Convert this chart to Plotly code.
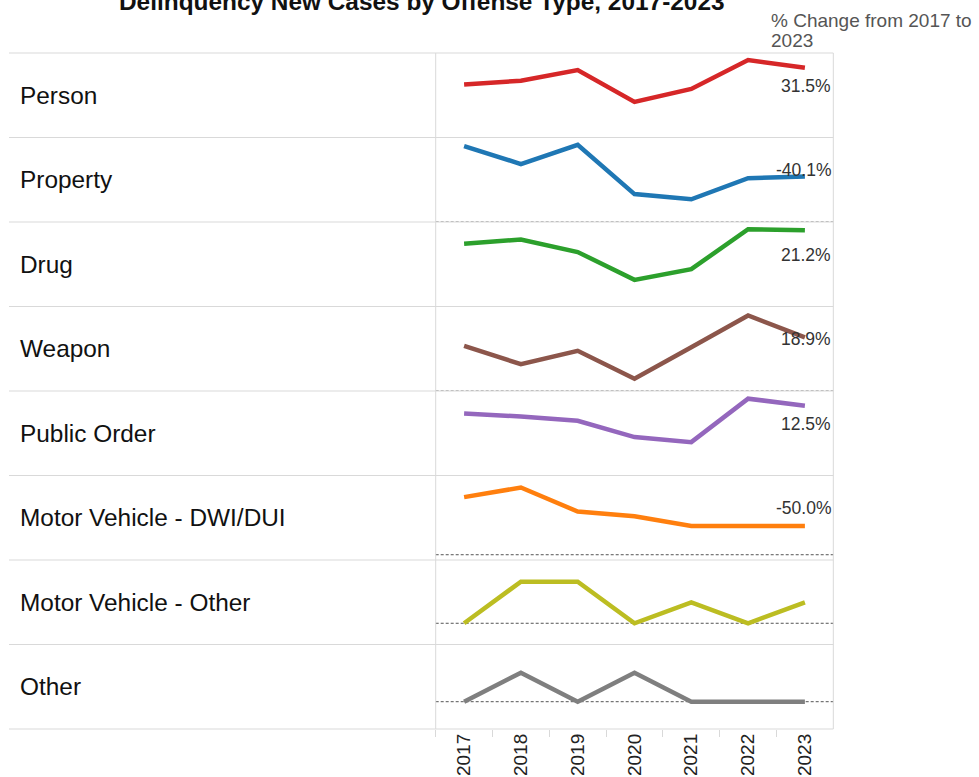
import plotly.graph_objects as go

# ---------------- data ----------------
years = ["2017", "2018", "2019", "2020", "2021", "2022", "2023"]
offense_types = ["Person", "Property", "Drug", "Weapon", "Public Order",
                 "Motor Vehicle - DWI/DUI", "Motor Vehicle - Other", "Other"]
person = [200, 214, 254, 134, 183, 292, 263]
property_cases = [177, 135, 180, 65, 53, 102, 106]
drug = [165, 176, 143, 70, 98, 203, 200]
weapon = [37, 22, 33, 10, 36, 62, 44]
public_order = [160, 152, 141, 99, 86, 198, 180]
mv_dwi = [12, 14, 9, 8, 6, 6, 6]
mv_other = [0, 2, 2, 0, 1, 0, 1]
other = [0, 1, 0, 1, 0, 0, 0]
series = [person, property_cases, drug, weapon, public_order, mv_dwi, mv_other, other]

# ---------------- styles ----------------
colors = ["#d62728", "#1f77b4", "#2ca02c", "#8c564b", "#9467bd",
          "#ff7f0e", "#bcbd22", "#7f7f7f"]
y_ranges = [[0, 318.6], [0, 196.9], [0, 221.9], [0, 69.4], [0, 217.8],
            [-1.1, 16.5], [-1.02, 3.04], [-0.94, 1.97]]
show_zero = [False, True, False, True, False, True, True, True]

W, H = 979, 777
TOP, ROW_H = 53.0, 84.5
X_LEFT, X_RIGHT = 435.7, 833.3
LINE_LEFT = 9.0
GRID = "#d9d9d9"
FONT = "Liberation Sans, Arial, sans-serif"


def px(x):
    return x / W


def py(y):
    return 1 - y / H


fig = go.Figure()
n = len(series)
layout = {}
shapes = []
annotations = []

for i, (name, vals, col) in enumerate(zip(offense_types, series, colors)):
    k = i + 1
    sx = "" if k == 1 else str(k)
    fig.add_trace(go.Scatter(
        x=years, y=vals, mode="lines", name=name,
        line=dict(color=col, width=4.5), xaxis="x" + sx, yaxis="y" + sx,
        hoverinfo="x+y+name", showlegend=False))
    row_top = TOP + i * ROW_H
    row_bot = row_top + ROW_H
    xa = dict(domain=[px(X_LEFT), px(X_RIGHT)], anchor="y" + sx,
              type="category", range=[-0.5, 6.5], showgrid=False,
              zeroline=False, showline=False, showticklabels=False,
              ticks="", fixedrange=True)
    if k == n:
        xa.update(showticklabels=True, ticks="outside", tickson="boundaries",
                  ticklen=7, tickcolor=GRID, tickwidth=1, tickangle=-90,
                  tickfont=dict(family=FONT, size=19, color="#222222"))
    else:
        xa["matches"] = "x" + ("" if n == 1 else str(n))
    ya = dict(domain=[py(row_bot), py(row_top)], anchor="x" + sx,
              range=y_ranges[i], visible=False, fixedrange=True)
    layout["xaxis" + sx] = xa
    layout["yaxis" + sx] = ya

    if show_zero[i]:
        shapes.append(dict(type="line", xref="x" + sx + " domain", yref="y" + sx,
                           x0=0, x1=1, y0=0, y1=0,
                           line=dict(color="#555555", width=1, dash="3px,2px"),
                           layer="below"))

    # row label
    annotations.append(dict(text=name, xref="paper", yref="paper",
                            x=px(18), y=py((row_top + row_bot) / 2),
                            xanchor="left", yanchor="middle", showarrow=False,
                            font=dict(family=FONT, size=24.4, color="#111111")))
    # percent change label
    if vals[0] != 0:
        pct = (vals[-1] - vals[0]) / vals[0] * 100
        annotations.append(dict(text=f"{pct:.1f}%", xref="paper", yref="paper",
                                x=px(833), y=py(row_top + 32.5),
                                xanchor="right", yanchor="middle", showarrow=False,
                                font=dict(family=FONT, size=17.5, color="#333333")))

# row dividers
for i in range(n + 1):
    y = TOP + i * ROW_H
    shapes.append(dict(type="line", xref="paper", yref="paper",
                       x0=px(LINE_LEFT), x1=px(X_RIGHT), y0=py(y), y1=py(y),
                       line=dict(color=GRID, width=1), layer="below"))
# panel verticals
for x in (X_LEFT, X_RIGHT):
    shapes.append(dict(type="line", xref="paper", yref="paper",
                       x0=px(x), x1=px(x), y0=py(TOP), y1=py(TOP + n * ROW_H),
                       line=dict(color=GRID, width=1), layer="below"))

# title and header
annotations.append(dict(text="<b>Delinquency New Cases by Offense Type, 2017-2023</b>",
                        xref="paper", yref="paper", x=px(422), y=py(1),
                        xanchor="center", yanchor="middle", showarrow=False,
                        font=dict(family=FONT, size=24.4, color="#111111")))
annotations.append(dict(text="% Change from 2017 to", xref="paper", yref="paper",
                        x=px(768.5), y=py(20), xanchor="left", yanchor="middle",
                        showarrow=False,
                        font=dict(family=FONT, size=19, color="#555555")))
annotations.append(dict(text="2023", xref="paper", yref="paper",
                        x=px(768.5), y=py(40.5), xanchor="left", yanchor="middle",
                        showarrow=False,
                        font=dict(family=FONT, size=19, color="#555555")))

fig.update_layout(**layout)
fig.update_layout(width=W, height=H, margin=dict(l=0, r=0, t=0, b=0),
                  paper_bgcolor="white", plot_bgcolor="white",
                  shapes=shapes, annotations=annotations,
                  font=dict(family=FONT), hovermode="closest")

fig.write_html("out.html", config={"displayModeBar": False},
               post_script="document.body.style.margin='0';document.body.style.overflow='hidden';")
